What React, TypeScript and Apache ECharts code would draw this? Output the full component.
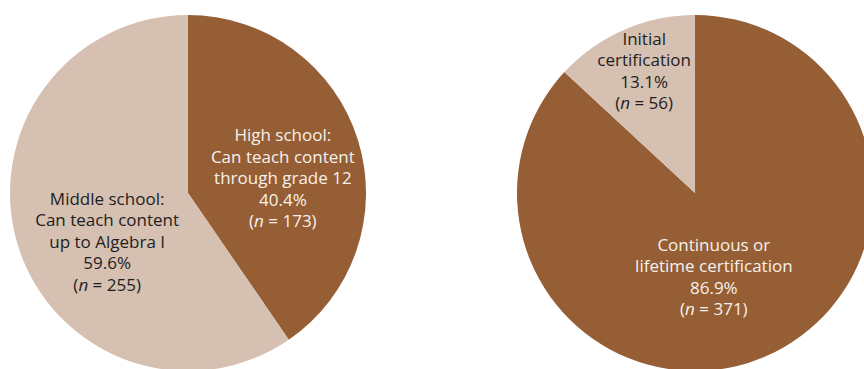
import React, { useEffect, useRef } from "react";
import * as echarts from "echarts";

const gradeCategories = ["High school:\nCan teach content\nthrough grade 12", "Middle school:\nCan teach content\nup to Algebra I"];
const gradeCounts = [173, 255];
const certCategories = ["Continuous or\nlifetime certification", "Initial\ncertification"];
const certCounts = [371, 56];

const DARK = "#955E35";
const LIGHT = "#D5C0B1";
const sliceColors = [DARK, LIGHT];
const textColors = ["#F7F1EC", "#1E1E1E"];
const gradeOffsets = [[7, 12], [7, 21]];
const certOffsets = [[-18, -1], [-14, -38]];

const FONT = "Open Sans";
const FS = 17;
const LH = 21.5;

function buildData(cats: string[], vals: number[], offsets: number[][]) {
  return cats.map((name, i) => ({
    name,
    value: vals[i],
    itemStyle: { color: sliceColors[i] },
    label: {
      offset: offsets[i],
      color: textColors[i],
      rich: {
        t: { color: textColors[i], fontSize: FS, fontFamily: FONT, lineHeight: LH },
        i: { color: textColors[i], fontSize: FS, fontFamily: FONT, lineHeight: LH, fontStyle: "italic" },
      },
    },
  }));
}

function fmt(p: any) {
  const lines = String(p.name).split("\n").map((l) => `{t|${l}}`);
  lines.push(`{t|${p.percent.toFixed(1)}%}`);
  lines.push(`{t|(}{i|n}{t| = ${p.value})}`);
  return lines.join("\n");
}

export default function App() {
  const ref = useRef<HTMLDivElement>(null);
  useEffect(() => {
    document.body.style.margin = "0";
    const chart = echarts.init(ref.current!, undefined, { renderer: "svg" });
    const common = {
      type: "pie",
      radius: [0, 178],
      startAngle: 90,
      clockwise: true,
      percentPrecision: 1,
      avoidLabelOverlap: false,
      silent: true,
      label: {
        show: true,
        position: "inside",
        formatter: fmt,
        align: "center",
        fontFamily: FONT,
        fontSize: FS,
        lineHeight: LH,
      },
      labelLine: { show: false },
      itemStyle: { borderWidth: 0 },
      emphasis: { disabled: true },
    };
    chart.setOption({
      animation: false,
      backgroundColor: "#ffffff",
      series: [
        { ...common, center: [188, 193], data: buildData(gradeCategories, gradeCounts, gradeOffsets) },
        { ...common, center: [695, 193], data: buildData(certCategories, certCounts, certOffsets) },
      ],
    });
    return () => chart.dispose();
  }, []);
  return <div ref={ref} style={{ position: "fixed", left: 0, top: 0, width: 864, height: 369 }} />;
}
